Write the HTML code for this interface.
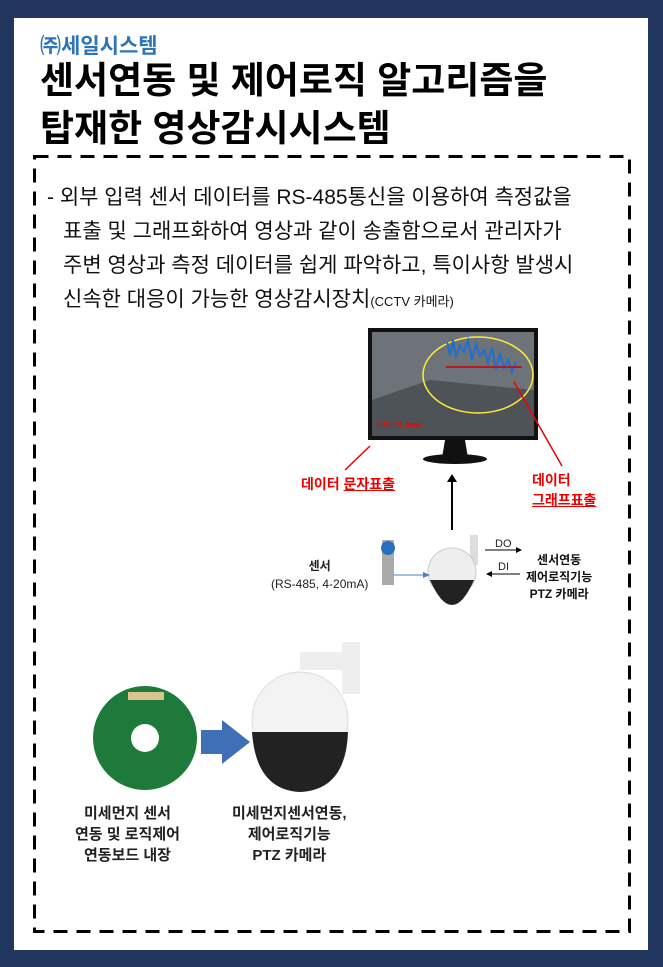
<!DOCTYPE html>
<html><head><meta charset="utf-8"><style>
body{margin:0;width:663px;height:967px;background:#22375f;position:relative;overflow:hidden;font-family:"Liberation Sans","Noto Sans CJK KR",sans-serif}
.w{position:absolute;left:14px;top:18px;width:634px;height:932px;background:#fff}
.a{position:absolute;white-space:nowrap}
.t{font-size:21px;color:#111}
.b{font-weight:bold}
</style></head><body>
<div class="w"></div>
<div class="a b" style="left:40px;top:30px;font-size:21px;color:#2e75b6">㈜세일시스템</div>
<div class="a b" style="left:40px;top:57px;font-size:37px;color:#000;line-height:48px">센서연동 및 제어로직 알고리즘을<br>탑재한 영상감시시스템</div>
<svg class="a" style="left:0;top:0" width="663" height="967"><rect x="34.5" y="156.5" width="595" height="775" fill="none" stroke="#000" stroke-width="3" stroke-dasharray="14 9"/></svg>
<div class="a t" style="left:47px;top:181px">- 외부 입력 센서 데이터를 RS-485통신을 이용하여 측정값을</div>
<div class="a t" style="left:63px;top:215px">표출 및 그래프화하여 영상과 같이 송출함으로서 관리자가</div>
<div class="a t" style="left:63px;top:249px">주변 영상과 측정 데이터를 쉽게 파악하고, 특이사항 발생시</div>
<div class="a t" style="left:63px;top:283px">신속한 대응이 가능한 영상감시장치<span style="font-size:13px">(CCTV 카메라)</span></div>
<svg class="a" style="left:0;top:0" width="663" height="967">
<rect x="368" y="328" width="170" height="112" fill="#111"/>
<rect x="372" y="332" width="162" height="104" fill="#6d7378"/>
<polygon points="372,400 430,380 534,390 534,436 372,436" fill="#4e5358"/>
<ellipse cx="478" cy="375" rx="55" ry="38" fill="none" stroke="#ffeb3b" stroke-width="1.5"/>
<polyline points="447,342 450,355 453,340 456,358 460,345 464,352 468,340 472,360 476,344 480,356 484,350 488,362 492,348 496,370 500,354 504,368 508,360 512,372 516,362" fill="none" stroke="#1e6fd0" stroke-width="2"/>
<line x1="446" y1="367" x2="522" y2="367" stroke="#c00" stroke-width="1.5"/>
<path d="M445 440 L465 440 L468 458 L442 458Z" fill="#111"/>
<ellipse cx="455" cy="459" rx="32" ry="5" fill="#111"/>
<line x1="345" y1="470" x2="370" y2="446" stroke="#e00" stroke-width="1.5"/>
<line x1="562" y1="466" x2="514" y2="382" stroke="#e00" stroke-width="1.5"/>
<line x1="452" y1="530" x2="452" y2="480" stroke="#000" stroke-width="2"/>
<polygon points="447,482 457,482 452,474" fill="#000"/>
<rect x="470" y="535" width="8" height="30" fill="#ddd"/>
<circle cx="452" cy="572" r="24" fill="#eee" stroke="#ccc"/>
<path d="M430 580 Q452 630 474 580Z" fill="#222"/>
<rect x="382" y="540" width="12" height="45" fill="#aaa"/>
<circle cx="388" cy="548" r="7" fill="#2a6fbf"/>
<line x1="394" y1="575" x2="425" y2="575" stroke="#4a7fc1" stroke-width="1"/>
<polygon points="423,572 430,575 423,578" fill="#4a7fc1"/>
<line x1="485" y1="550" x2="518" y2="550" stroke="#000"/><polygon points="516,547 522,550 516,553" fill="#000"/>
<line x1="490" y1="574" x2="520" y2="574" stroke="#000"/><polygon points="492,571 486,574 492,577" fill="#000"/>
<circle cx="145" cy="738" r="52" fill="#1e7a3a"/>
<circle cx="145" cy="738" r="14" fill="#fff"/>
<rect x="128" y="692" width="36" height="8" fill="#d9c48f"/>
<polygon points="201,730 222,730 222,720 250,742 222,764 222,754 201,754" fill="#3f6fb5"/>
<rect x="342" y="642" width="18" height="52" fill="#eee"/>
<rect x="300" y="652" width="50" height="18" fill="#eee"/>
<circle cx="300" cy="720" r="48" fill="#f3f3f3" stroke="#ddd"/>
<path d="M252 732 Q256 790 300 792 Q346 790 348 732Z" fill="#222"/>
</svg>
<div class="a" style="left:376px;top:420px;font-size:7px;color:#e00">현재수위: 5mm</div>
<div class="a b" style="left:301px;top:474px;font-size:14px;color:#e00">데이터 <u>문자표출</u></div>
<div class="a b" style="left:532px;top:470px;font-size:14px;color:#e00;line-height:20px">데이터<br><u>그래프표출</u></div>
<div class="a" style="left:271px;top:557px;font-size:12px;color:#222;text-align:center;line-height:18px"><b>센서</b><br>(RS-485, 4-20mA)</div>
<div class="a" style="left:495px;top:538px;font-size:11px;color:#222">DO</div>
<div class="a" style="left:498px;top:561px;font-size:11px;color:#222">DI</div>
<div class="a b" style="left:526px;top:552px;font-size:12px;color:#111;text-align:center;line-height:17px">센서연동<br>제어로직기능<br>PTZ 카메라</div>
<div class="a b" style="left:75px;top:803px;font-size:15px;color:#222;text-align:center;line-height:21px">미세먼지 센서<br>연동 및 로직제어<br>연동보드 내장</div>
<div class="a b" style="left:232px;top:803px;font-size:15px;color:#222;text-align:center;line-height:21px">미세먼지센서연동,<br>제어로직기능<br>PTZ 카메라</div>
</body></html>
